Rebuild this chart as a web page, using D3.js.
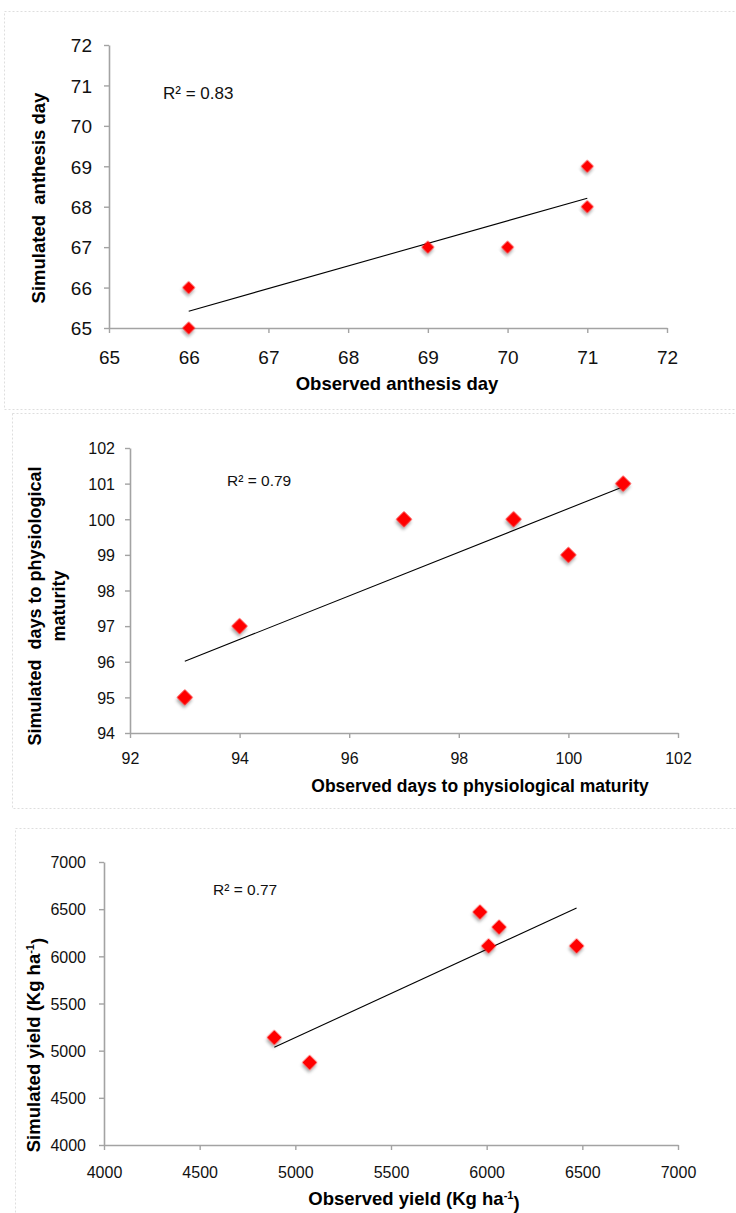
<!DOCTYPE html>
<html><head><meta charset="utf-8">
<script src="https://cdn.jsdelivr.net/npm/d3@7"></script>
<style>body{margin:0;background:#fff}svg{display:block}text{white-space:pre}</style>
</head><body><svg id="c" width="736" height="1213"></svg>
<script>
// ---------- data ----------
const anthesisObserved  = [66, 66, 69, 70, 71, 71];
const anthesisSimulated = [66, 65, 67, 67, 69, 68];
const anthesisTicks     = [65, 66, 67, 68, 69, 70, 71, 72];

const maturityObserved  = [93, 94, 97, 99, 100, 101];
const maturitySimulated = [95, 97, 100, 100, 99, 101];
const maturityXTicks    = [92, 94, 96, 98, 100, 102];
const maturityYTicks    = [94, 95, 96, 97, 98, 99, 100, 101, 102];

const yieldObserved  = [4890, 5075, 5965, 6065, 6010, 6470];
const yieldSimulated = [5140, 4875, 6470, 6310, 6110, 6110];
const yieldTicks     = [4000, 4500, 5000, 5500, 6000, 6500, 7000];

const r2Labels = ["R\u00B2 = 0.83", "R\u00B2 = 0.79", "R\u00B2 = 0.77"];
const xTitles = ["Observed anthesis day", "Observed days to physiological maturity", "Observed yield (Kg ha|-1|)"];
const yTitles = [["Simulated  anthesis day"], ["Simulated  days to physiological", "maturity"], ["Simulated yield (Kg ha|-1|)"]];

// ---------- layout ----------
const FONT = "Arial, 'Liberation Sans', Helvetica, sans-serif";
const svg = d3.select("#c");
const defs = svg.append("defs");
const f = defs.append("filter").attr("id", "sh").attr("x", "-50%").attr("y", "-50%").attr("width", "200%").attr("height", "200%");
f.append("feDropShadow").attr("dx", 1.5).attr("dy", 2.5).attr("stdDeviation", 1.4)
  .attr("flood-color", "#000").attr("flood-opacity", 0.35);

// panel frames
const frames = [[4.5, 11.5, 800, 398], [12.5, 413.5, 800, 395], [15.5, 828.5, 800, 420]];
frames.forEach(fr => svg.append("rect").attr("x", fr[0]).attr("y", fr[1]).attr("width", fr[2]).attr("height", fr[3])
  .attr("fill", "none").attr("stroke", "#dedede").attr("stroke-width", 1).attr("stroke-dasharray", "2,2"));

const panels = [
  {xs: anthesisObserved, ys: anthesisSimulated, xd: [65, 72], yd: [65, 72], xt: anthesisTicks, yt: anthesisTicks,
   xr: [109, 667], yr: [328, 45], tf: 19, txo: 29, tyg: 12, r2: [163, 99], r2f: 17,
   xTitle: [397, 383], xtf: 18.5, yTitleX: [38], yTitleY: 198, ytf: 18.5, ms: 81},
  {xs: maturityObserved, ys: maturitySimulated, xd: [92, 102], yd: [94, 102], xt: maturityXTicks, yt: maturityYTicks,
   xr: [130, 678], yr: [733, 448], tf: 16, txo: 25, tyg: 10, r2: [227, 486], r2f: 15.5,
   xTitle: [480, 786], xtf: 17.5, yTitleX: [35, 59], yTitleY: 606, ytf: 18, ms: 128},
  {xs: yieldObserved, ys: yieldSimulated, xd: [4000, 7000], yd: [4000, 7000], xt: yieldTicks, yt: yieldTicks,
   xr: [104, 678], yr: [1145, 862], tf: 16, txo: 27, tyg: 13, r2: [213, 895], r2f: 15.5,
   xTitle: [414, 1198], xtf: 18.5, yTitleX: [33], yTitleY: 1045, ytf: 18.5, ms: 113}
];

function richText(sel, str) {
  const parts = str.split("|");
  sel.append("tspan").text(parts[0]);
  if (parts.length > 1) {
    sel.append("tspan").attr("font-size", "0.6em").attr("dy", "-0.55em").text(parts[1]);
    sel.append("tspan").attr("dy", "0.55em").text(parts[2]);
  }
}

const fmt = d3.format("d");

panels.forEach((p, i) => {
  const g = svg.append("g");
  const x = d3.scaleLinear().domain(p.xd).range(p.xr);
  const y = d3.scaleLinear().domain(p.yd).range(p.yr);

  // y axis
  const ya = g.append("g").attr("transform", `translate(${p.xr[0]},0)`)
    .call(d3.axisLeft(y).tickValues(p.yt).tickFormat(fmt).tickSize(5).tickSizeOuter(0).tickPadding(p.tyg));
  // x axis
  const xa = g.append("g").attr("transform", `translate(0,${p.yr[0]})`)
    .call(d3.axisBottom(x).tickValues(p.xt).tickFormat(fmt).tickSize(5).tickSizeOuter(0));
  [ya, xa].forEach(a => {
    a.select(".domain").attr("stroke", "#a3a3a3").attr("stroke-width", 1.6);
    a.selectAll(".tick line").attr("stroke", "#a3a3a3").attr("stroke-width", 1.4);
    a.selectAll("text").attr("font-family", FONT).attr("font-size", p.tf).attr("fill", "#111");
  });
  ya.selectAll("text").attr("dy", "0.36em");
  xa.selectAll("text").attr("y", p.txo).attr("dy", "0.36em");

  // trendline (least squares from data)
  const mx = d3.mean(p.xs), my = d3.mean(p.ys);
  const sxy = d3.sum(p.xs, (v, k) => (v - mx) * (p.ys[k] - my));
  const sxx = d3.sum(p.xs, v => (v - mx) * (v - mx));
  const b = sxy / sxx, a0 = my - b * mx;
  const [x0, x1] = d3.extent(p.xs);
  g.append("line").attr("x1", x(x0)).attr("y1", y(a0 + b * x0)).attr("x2", x(x1)).attr("y2", y(a0 + b * x1))
    .attr("stroke", "#000").attr("stroke-width", 1.1);

  // markers
  g.selectAll("path.pt").data(p.xs.map((v, k) => [v, p.ys[k]])).join("path").attr("class", "pt")
    .attr("d", d3.symbol(d3.symbolSquare, p.ms))
    .attr("transform", d => `translate(${x(d[0])},${y(d[1])}) rotate(45)`)
    .attr("fill", "#ff0000").attr("filter", "url(#sh)");

  // R² label
  g.append("text").attr("x", p.r2[0]).attr("y", p.r2[1]).attr("font-family", FONT).attr("font-size", p.r2f)
    .attr("fill", "#111").text(r2Labels[i]);

  // x title
  const xt = g.append("text").attr("x", p.xTitle[0]).attr("y", p.xTitle[1]).attr("dy", "0.36em")
    .attr("text-anchor", "middle").attr("font-family", FONT).attr("font-weight", "bold")
    .attr("font-size", p.xtf).attr("fill", "#000");
  richText(xt, xTitles[i]);

  // y title
  yTitles[i].forEach((line, k) => {
    const t = g.append("text").attr("transform", `translate(${p.yTitleX[k]},${p.yTitleY}) rotate(-90)`)
      .attr("dy", "0.36em").attr("text-anchor", "middle").attr("font-family", FONT).attr("font-weight", "bold")
      .attr("font-size", p.ytf).attr("fill", "#000");
    richText(t, line);
  });
});
</script></body></html>
